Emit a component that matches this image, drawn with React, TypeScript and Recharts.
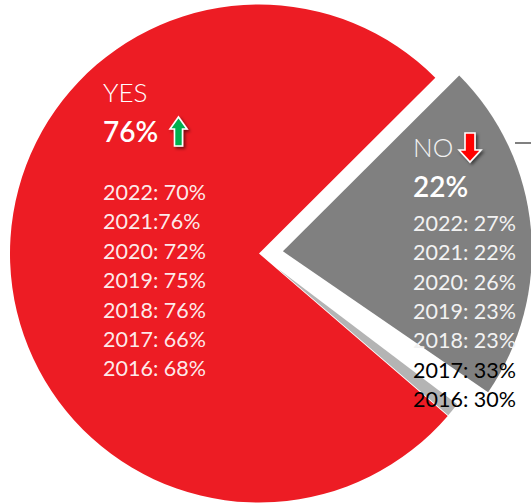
import { Cell, Pie, PieChart } from "recharts";

const NAMES = ["NO", "YES", "Other"];
const SHARES = [22, 76, 1];
const COLORS = ["#808080", "#ED1C24", "#B4B4B4"];
const EXPLODE = [24, 0, 24];

const YES_YEARS = ["2022: 70%", "2021:76%", "2020: 72%", "2019: 75%", "2018: 76%", "2017: 66%", "2016: 68%"];
const NO_YEARS = ["2022: 27%", "2021: 22%", "2020: 26%", "2019: 23%", "2018: 23%", "2017: 33%", "2016: 30%"];

const W = 531;
const H = 503;
const CX = 259;
const CY = 253.5;
const R = 249;
const START = -34.5;
const END = 322.9;

const data = NAMES.map((name, i) => ({ name, value: SHARES[i] }));

// pixel offset of each exploded slice, along its own mid angle
function explodedCenters() {
  const total = SHARES.reduce((a, b) => a + b, 0);
  const scale = (END - START) / total;
  let cum = 0;
  return SHARES.map((v, i) => {
    const mid = ((START + (cum + v / 2) * scale) * Math.PI) / 180;
    cum += v;
    return { cx: CX + EXPLODE[i] * Math.cos(mid), cy: CY - EXPLODE[i] * Math.sin(mid) };
  });
}

const FONT = "Lato, 'Open Sans', sans-serif";

function Labels() {
  return (
    <svg width={W} height={H} style={{ position: "absolute", left: 0, top: 0, pointerEvents: "none" }}>
      <defs>
        <filter id="shadow" x="-50%" y="-50%" width="200%" height="200%">
          <feDropShadow dx="2" dy="2" stdDeviation="1.6" floodColor="#000" floodOpacity="0.5" />
        </filter>
      </defs>
      <line x1={515} y1={143} x2={531} y2={143} stroke="#808080" strokeWidth={2} />

      <text x={103} y={102} fill="#fff" fontFamily={FONT} fontWeight={300} fontSize={26}>YES</text>
      <text x={103} y={142} fill="#fff" fontFamily={FONT} fontWeight={600} fontSize={28}>76%</text>
      <path
        d="M178.5,117 L187,129 L182.5,129 L182.5,146 L174.5,146 L174.5,129 L170,129 Z"
        fill="#00B050"
        stroke="#fff"
        strokeWidth={1.6}
        filter="url(#shadow)"
      />
      {YES_YEARS.map((t, i) => (
        <text key={t} x={103} y={200 + i * 29.4} fill="#fff" fillOpacity={0.92} fontFamily={FONT} fontWeight={400} fontSize={21.5}>
          {t}
        </text>
      ))}

      <text x={413} y={157} fill="#f2f2f2" fontFamily={FONT} fontWeight={300} fontSize={26}>NO</text>
      <path
        d="M465,133 L475,133 L475,150 L481,150 L470,162 L459,150 L465,150 Z"
        fill="#FF0000"
        stroke="#fff"
        strokeWidth={1.6}
        filter="url(#shadow)"
      />
      <text x={413} y={197} fill="#fff" fontFamily={FONT} fontWeight={600} fontSize={28}>22%</text>
      {NO_YEARS.map((t, i) => (
        <text
          key={t}
          x={413}
          y={231 + i * 29.3}
          fill={i < 5 ? "#f2f2f2" : "#000"}
          fontFamily={FONT}
          fontWeight={400}
          fontSize={21.5}
        >
          {t}
        </text>
      ))}
    </svg>
  );
}

export default function App() {
  const centers = explodedCenters();
  // draw YES first, then the exploded slices on top
  const order = [1, 0, 2];
  return (
    <div style={{ position: "absolute", left: 0, top: 0, width: W, height: H, background: "#fff" }}>
      <PieChart width={W} height={H} margin={{ top: 0, right: 0, bottom: 0, left: 0 }}>
        {order.map((owner) => (
          <Pie
            key={NAMES[owner]}
            data={data}
            dataKey="value"
            nameKey="name"
            cx={centers[owner].cx}
            cy={centers[owner].cy}
            outerRadius={owner === 2 ? R - EXPLODE[owner] : R}
            innerRadius={0}
            startAngle={START}
            endAngle={END}
            stroke="none"
            isAnimationActive={false}
          >
            {data.map((d, i) => (
              <Cell key={d.name} fill={i === owner ? COLORS[i] : "transparent"} stroke="none" />
            ))}
          </Pie>
        ))}
      </PieChart>
      <Labels />
    </div>
  );
}
